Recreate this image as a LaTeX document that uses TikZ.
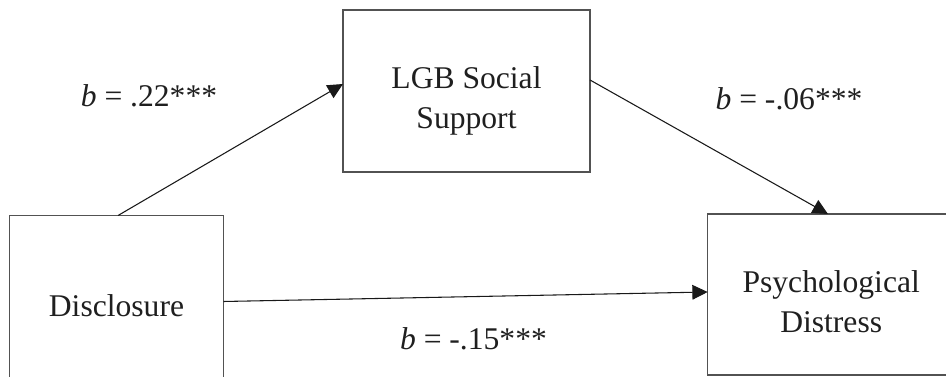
\documentclass[tikz,border=0pt]{standalone}
\usepackage{fontspec}
\setmainfont{Liberation Serif}
\usetikzlibrary{arrows.meta,calc}

\begin{document}
\begin{tikzpicture}[
  x=0.75pt, y=-0.75pt,
  every node/.style={font=\fontsize{23.7pt}{30pt}\selectfont, text=black!88},
  varbox/.style={draw=black!68, line width=1.1pt, outer sep=0pt, inner sep=0pt},
  pathlabel/.style={anchor=base, inner sep=0pt},
  boxtext/.style={align=center, inner sep=0pt},
  arr/.style={draw=black!90, line width=0.8pt,
              -{Triangle[length=11.5pt,width=11pt]}}
]
  \useasboundingbox (0,0) rectangle (946,377);
  \clip (0,0) rectangle (946,377);

  % variable boxes
  \node[varbox, minimum width=160.5pt, minimum height=134.55pt]
       (disc) at (116.5,305.2) {Disclosure};
  \node[varbox, minimum width=185.25pt, minimum height=121.5pt]
       (lgb) at (466.5,91) {};
  \node[varbox, minimum width=185.25pt, minimum height=120.75pt]
       (psych) at (831.2,294.5) {};

  \node[boxtext] (lgbtext) at (466.5,100.6) {LGB Social\\Support};
  \node[boxtext] (psychtext) at (831.2,301.2) {Psychological\\Distress};

  % paths
  \draw[arr] ([xshift=81.4pt]disc.north west) -- ([yshift=-55.5pt]lgb.north west);
  \draw[arr] ([yshift=-52.5pt]lgb.north east) -- ([xshift=90.2pt]psych.north west);
  \draw[arr] ([yshift=-64.5pt]disc.north east) -- ([yshift=-58.5pt]psych.north west);

  % coefficients
  \node[pathlabel] (ba) at (149,107) {\textit{b} = .22***};
  \node[pathlabel] (bb) at (789,110) {\textit{b} = -.06***};
  \node[pathlabel] (bc) at (473.5,350) {\textit{b} = -.15***};
\end{tikzpicture}
\end{document}
